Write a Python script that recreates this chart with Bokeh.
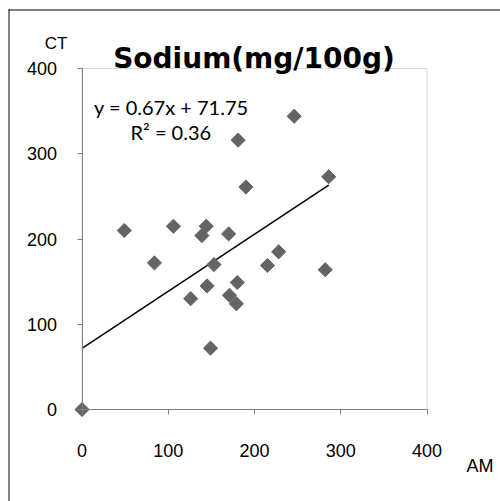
from bokeh.plotting import figure
from bokeh.models import Label, FixedTicker, BoxAnnotation
from bokeh.embed import file_html
from bokeh.resources import INLINE
import numpy as np

# data (AM vs CT sodium, mg/100g)
am = [0, 49, 84, 106, 144, 139, 153, 145, 126, 149, 170, 180, 171, 179, 215, 228, 282, 246, 181, 190, 286]
ct = [0, 210, 172, 215, 215, 204, 170, 145, 130, 72, 206, 149, 134, 124, 169, 185, 164, 344, 316, 261, 273]
slope = 0.67
intercept = 71.75
r2 = 0.36
ticks = [0, 100, 200, 300, 400]
title_text = "Sodium(mg/100g)"

X0, X1 = -94.5, 485.2
Y0, Y1 = -107.9, 479.8

# the frame spans the whole canvas; the plot area 0..400 sits inside it
p = figure(width=500, height=501, x_range=(X0, X1), y_range=(Y0, Y1),
           output_backend="svg", toolbar_location=None,
           min_border_left=0, min_border_right=0, min_border_top=0, min_border_bottom=0)
p.xgrid.visible = False
p.ygrid.visible = False
p.outline_line_color = None

# chart-area border: thin filled strips along top and left edges
p.add_layout(BoxAnnotation(left=-85.2, right=X1, bottom=468.0, top=469.2,
                           fill_color="black", fill_alpha=1, line_color=None))
p.add_layout(BoxAnnotation(left=-85.2, right=-84.06, bottom=Y0, top=469.2,
                           fill_color="black", fill_alpha=1, line_color=None))
# plot-area box
p.add_layout(BoxAnnotation(left=0, right=400, bottom=0, top=400,
                           fill_alpha=0, line_color="#808080", line_width=1))

for ax in (p.xaxis[0], p.yaxis[0]):
    ax.ticker = FixedTicker(ticks=ticks)
    ax.fixed_location = 0
    ax.bounds = (0, 400)
    ax.axis_line_color = "#808080"
    ax.major_tick_line_color = "#808080"
    ax.minor_tick_line_color = None
    ax.major_tick_in = 0
    ax.major_tick_out = 5
    ax.major_label_text_font = "Liberation Sans"
    ax.major_label_text_font_size = "18px"
    ax.major_label_text_color = "black"
p.yaxis[0].major_label_standoff = 20
p.xaxis[0].major_label_standoff = 29

xs = np.array([0, max(am)], dtype=float)
p.line(xs, slope * xs + intercept, line_color="black", line_width=1.5)
p.scatter(am, ct, marker="square", size=10, angle=np.pi / 4,
          fill_color="#646464", line_color="#646464")

p.add_layout(Label(x=199.4, y=411.7, text=title_text, text_align="center",
                   text_baseline="alphabetic", text_font="DejaVu Sans",
                   text_font_style="bold", text_font_size="28px", text_color="black"))
p.add_layout(Label(x=103.5, y=355.4, text=f"y = {slope}x + {intercept}", text_align="center",
                   text_baseline="middle", text_font="Lato", text_font_size="20px",
                   text_color="black"))
p.add_layout(Label(x=103.0, y=325.3, text=f"R² = {r2}", text_align="center",
                   text_baseline="middle", text_font="Lato", text_font_size="20px",
                   text_color="black"))
p.add_layout(Label(x=-30.1, y=429, text="CT", text_align="center",
                   text_baseline="middle", text_font="Liberation Sans", text_font_size="17px",
                   text_color="black"))
p.add_layout(Label(x=461.4, y=-65.7, text="AM", text_align="center",
                   text_baseline="middle", text_font="Liberation Sans", text_font_size="18px",
                   text_color="black"))

open("out.html", "w").write(file_html(p, INLINE))
